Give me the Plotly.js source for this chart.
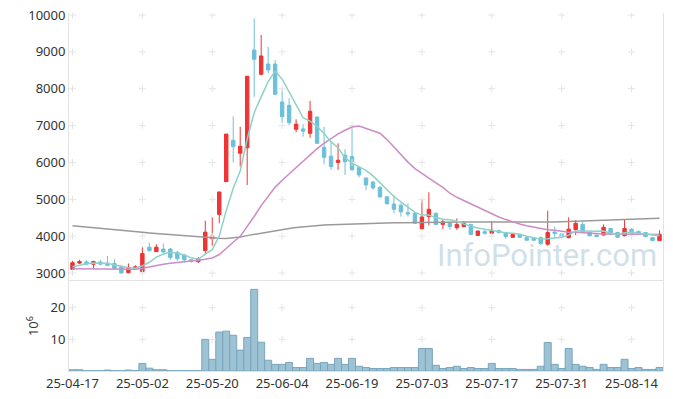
<!DOCTYPE html>
<html><head><meta charset="utf-8">
<script src="https://cdn.plot.ly/plotly-3.0.1.min.js"></script>
<style>html,body{margin:0;padding:0;background:#fff;}#chart{width:673px;height:399px;}</style>
</head><body><div id="chart"></div>
<script>
const dates = ["25-04-17","25-04-18","25-04-21","25-04-22","25-04-23","25-04-24","25-04-25","25-04-28","25-04-29","25-04-30",
"25-05-02","25-05-07","25-05-08","25-05-09","25-05-12","25-05-13","25-05-14","25-05-15","25-05-16","25-05-19",
"25-05-20","25-05-21","25-05-22","25-05-23","25-05-26","25-05-27","25-05-28","25-05-29","25-05-30","25-06-02",
"25-06-04","25-06-05","25-06-09","25-06-10","25-06-11","25-06-12","25-06-13","25-06-16","25-06-17","25-06-18",
"25-06-19","25-06-20","25-06-23","25-06-24","25-06-25","25-06-26","25-06-27","25-06-30","25-07-01","25-07-02",
"25-07-03","25-07-04","25-07-07","25-07-08","25-07-09","25-07-10","25-07-11","25-07-14","25-07-15","25-07-16",
"25-07-17","25-07-18","25-07-21","25-07-22","25-07-23","25-07-24","25-07-25","25-07-28","25-07-29","25-07-30",
"25-07-31","25-08-01","25-08-04","25-08-05","25-08-06","25-08-07","25-08-08","25-08-11","25-08-12","25-08-13",
"25-08-14","25-08-18","25-08-19","25-08-20","25-08-21"];

const openP = [3100,3270,3300,3240,3300,3270,3260,3180,3010,3120,
3040,3700,3580,3650,3650,3560,3490,3360,3310,3610,
3930,4590,5480,6600,6250,6400,9050,8390,8670,8670,
7640,7550,6900,6910,6790,7230,6410,6170,6000,6200,
6160,5860,5580,5470,5320,5070,4870,4840,4640,4620,
4200,4530,4620,4320,4370,4230,4260,4320,4020,4120,
4080,4150,4100,3970,4050,3960,3940,3960,3780,4110,
4060,3960,4180,4320,4100,4030,4030,4210,4100,4010,
4190,4130,4100,3960,3880];
const highP = [3330,3360,3350,3335,3350,3460,3380,3190,3260,3210,
3700,3830,3780,3800,3680,3600,3520,3380,3430,4420,
4510,5200,6770,7250,6970,8340,9910,9460,9140,8780,
7980,7740,7170,7040,7670,7250,6970,6560,6520,6360,
6930,5900,5580,5490,5360,5080,5120,4890,4890,4640,
5000,5190,4640,4460,4390,4480,4400,4330,4150,4170,
4410,4170,4110,4060,4060,3970,3960,3990,4690,4260,
4080,4510,4440,4400,4110,4040,4320,4220,4120,4460,
4210,4150,4110,3970,4160];
const lowP = [3070,3245,3210,3130,3210,3190,3110,2990,2990,3100,
3020,3580,3570,3550,3360,3335,3280,3280,3270,3530,
3740,4350,5470,6000,5890,5390,7780,8390,8420,7850,
7080,7010,6820,6700,6670,6510,5950,5800,5800,5660,
5780,5590,5250,5260,5030,4860,4620,4530,4530,4330,
4190,4300,4300,4190,4170,4170,4240,4040,4000,4040,
4050,4070,3930,3950,3950,3880,3880,3760,3740,3940,
3950,3940,4030,4110,4000,3970,4020,4030,3960,4000,
4060,4040,3970,3860,3870];
const closeP = [3280,3310,3240,3310,3240,3210,3130,3000,3150,3170,
3530,3610,3700,3570,3420,3390,3360,3320,3380,4110,
4000,5200,6770,6430,6440,8340,8800,8890,8510,7850,
7240,7080,7040,6850,7390,6520,6140,5890,6060,6020,
5800,5660,5390,5310,5070,4880,4730,4660,4600,4350,
4520,4730,4320,4390,4260,4320,4340,4050,4140,4080,
4160,4100,3990,4050,3970,3890,3890,3800,4100,4070,
3980,4190,4350,4120,4010,3990,4240,4050,3970,4210,
4080,4060,3990,3880,4050];

const ma5 = [3170,3220,3250,3270,3276,3262,3226,3178,3146,3132,
3196,3292,3432,3516,3566,3538,3488,3412,3374,3512,
3634,4002,4692,5302,5768,6636,7356,7780,8196,8478,
8258,7914,7544,7212,7120,6976,6788,6558,6400,6126,
5982,5886,5786,5636,5446,5262,5076,4930,4788,4644,
4572,4572,4504,4462,4444,4404,4326,4272,4222,4186,
4154,4106,4094,4076,4054,4000,3958,3920,3930,3950,
3968,4028,4138,4142,4130,4132,4142,4082,4052,4092,
4110,4074,4062,4044,4012];
const ma20 = [3115,3112,3110,3108,3105,3102,3100,3097,3095,3100,
3130,3170,3210,3240,3265,3280,3300,3320,3345,3371,
3408,3502,3679,3835,3995,4251,4535,4829,5097,5331,
5517,5690,5857,6021,6220,6376,6515,6644,6778,6873,
6963,6986,6917,6861,6793,6620,6416,6205,6009,5834,
5698,5581,5445,5322,5165,5055,4965,4873,4777,4680,
4598,4520,4450,4387,4332,4283,4241,4198,4173,4159,
4132,4105,4106,4093,4080,4064,4059,4059,4050,4057,
4053,4051,4051,4042,4046];
const ma120 = [4285,4265,4247,4228,4209,4190,4172,4155,4138,4121,
4104,4089,4074,4059,4044,4030,4012,3994,3976,3958,
3948,3942,3940,3955,3980,4015,4050,4090,4125,4160,
4185,4210,4235,4255,4275,4292,4302,4311,4319,4327,
4335,4341,4347,4352,4356,4360,4363,4366,4370,4373,
4375,4377,4379,4381,4383,4384,4384,4384,4383,4382,
4381,4380,4379,4378,4377,4376,4375,4376,4380,4386,
4392,4398,4404,4410,4418,4424,4431,4437,4443,4450,
4457,4463,4470,4477,4484];

const volumeM = [0.4,0.4,0.1,0.1,0.1,0.3,0.1,0.1,0.3,0.1,
2.4,0.9,0.4,0.4,0.1,0.1,0.1,0.1,0.1,10.0,
3.7,12.3,12.6,11.3,6.6,10.6,25.8,9.1,3.4,2.1,
2.1,2.7,1.1,1.1,4.0,2.4,2.7,2.1,4.0,2.1,
4.0,1.5,1.1,0.8,0.8,0.8,1.1,1.1,1.1,1.1,
7.1,7.1,1.8,0.8,1.1,1.5,0.8,1.1,0.8,0.8,
2.4,0.8,0.8,0.8,0.5,0.5,0.5,1.5,9.0,2.1,
0.8,7.1,2.1,1.5,1.1,0.5,2.1,1.1,1.1,3.7,
0.8,1.1,0.5,0.5,1.1];

const priceTicks = [3000,4000,5000,6000,7000,8000,9000,10000];
const priceTickText = priceTicks.map(String);
const volTicks = [10,20];
const tickIdx = [0,10,20,30,40,50,60,70,80];
const tickDates = tickIdx.map(i => dates[i]);

// grid crosses at tick intersections
const cx1 = [], cy1 = [], cx2 = [], cy2 = [];
tickDates.forEach(d => { priceTicks.forEach(v => { cx1.push(d); cy1.push(v); }); });
tickDates.forEach(d => { volTicks.forEach(v => { cx2.push(d); cy2.push(v); }); });

const red = '#ee3434', blue = '#6cc0d8';
const crossMarker = {symbol:'cross-thin', size:5, line:{color:'#e4e4e4', width:1}};
const traces = [
  {type:'scatter', mode:'markers', x:cx1, y:cy1, xaxis:'x', yaxis:'y', hoverinfo:'skip', marker:crossMarker},
  {type:'scatter', mode:'markers', x:cx2, y:cy2, xaxis:'x', yaxis:'y2', hoverinfo:'skip', marker:crossMarker},
  {type:'scatter', mode:'lines', x:dates, y:ma120, line:{color:'#9a9a9a', width:1.5}, xaxis:'x', yaxis:'y'},
  {type:'candlestick', x:dates, open:openP, high:highP, low:lowP, close:closeP, xaxis:'x', yaxis:'y',
   increasing:{line:{color:red, width:1}, fillcolor:red},
   decreasing:{line:{color:blue, width:1}, fillcolor:blue}},
  {type:'scatter', mode:'lines', x:dates, y:ma20, line:{color:'#cc8cc6', width:1.5}, xaxis:'x', yaxis:'y'},
  {type:'scatter', mode:'lines', x:dates, y:ma5, line:{color:'#8ed2c6', width:1.5}, xaxis:'x', yaxis:'y'},
  {type:'bar', x:dates, y:volumeM, xaxis:'x', yaxis:'y2',
   marker:{color:'rgba(145,187,206,0.9)', line:{color:'#7aa6bc', width:1}}}
];

const fnt = {family:'"Noto Sans", sans-serif', size:13, color:'#333'};
const layout = {
  width:673, height:399,
  margin:{l:69, r:10, t:13, b:28},
  paper_bgcolor:'#fff', plot_bgcolor:'#fff',
  showlegend:false, bargap:0,
  font:fnt,
  xaxis:{type:'category', categoryorder:'array', categoryarray:dates, range:[-0.5,84.5],
    rangeslider:{visible:false}, anchor:'y2',
    tickmode:'array', tickvals:tickDates, ticktext:tickDates, showgrid:false, zeroline:false,
    showline:true, mirror:true, linecolor:'#e3e3e3', linewidth:1, ticks:'', tickfont:fnt},
  yaxis:{domain:[0.251,1], range:[2780,10055], tickmode:'array', tickvals:priceTicks, ticktext:priceTickText,
    showgrid:false, zeroline:false, showline:true, mirror:true, linecolor:'#e3e3e3', linewidth:1,
    ticks:'', tickfont:fnt},
  yaxis2:{domain:[0,0.251], range:[0,28.4], tickmode:'array', tickvals:volTicks, ticktext:volTicks.map(String),
    showgrid:false, zeroline:false, showline:true, mirror:true, linecolor:'#e3e3e3', linewidth:1,
    ticks:'', tickfont:fnt, title:{text:'10<sup>6</sup>', font:fnt, standoff:8}},
  annotations:[{text:'InfoPointer.com', xref:'paper', yref:'paper', x:0.804, y:0.322,
    xanchor:'center', yanchor:'middle',
    showarrow:false, font:{family:'Roboto, sans-serif', size:31, color:'rgba(175,204,219,0.6)'}}]
};
Plotly.newPlot('chart', traces, layout, {staticPlot:true, displayModeBar:false});
</script></body></html>
